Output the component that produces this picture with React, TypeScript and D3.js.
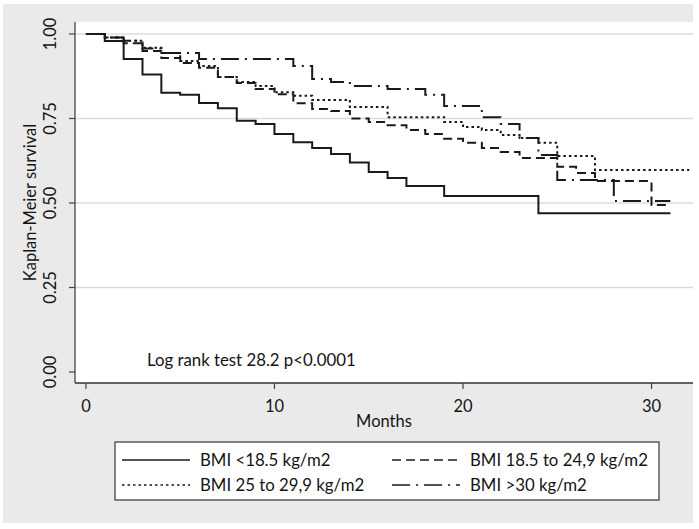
import * as d3 from "d3";

// Kaplan-Meier step data (months / survival)
const under185Time = [0, 1, 2, 3, 4, 5, 6, 7, 8, 9, 10, 11, 12, 13, 14, 15, 16, 17, 19, 24, 31];
const under185Surv = [1, 0.979, 0.926, 0.88, 0.826, 0.82, 0.796, 0.78, 0.743, 0.734, 0.704, 0.68, 0.663, 0.645, 0.62, 0.592, 0.574, 0.55, 0.521, 0.47, 0.47];

const normalTime = [0, 1, 2, 3, 4, 5, 6, 7, 8, 9, 10, 11, 12, 13, 14, 15, 16, 17, 18, 19, 20, 21, 22, 23, 25, 26, 27, 30, 31];
const normalSurv = [1, 0.99, 0.973, 0.95, 0.929, 0.914, 0.9, 0.873, 0.855, 0.837, 0.822, 0.795, 0.778, 0.772, 0.75, 0.74, 0.73, 0.716, 0.704, 0.69, 0.678, 0.663, 0.651, 0.633, 0.607, 0.589, 0.565, 0.494, 0.494];

const overTime = [0, 1, 2, 3, 4, 5, 6, 7, 8, 9, 10, 11, 12, 14, 16, 19, 20, 21, 22, 23, 24, 25, 27, 32];
const overSurv = [1, 0.99, 0.98, 0.959, 0.944, 0.92, 0.905, 0.873, 0.858, 0.846, 0.828, 0.817, 0.805, 0.784, 0.754, 0.74, 0.725, 0.716, 0.701, 0.692, 0.678, 0.639, 0.598, 0.598];

const obeseTime = [0, 1, 2, 3, 4, 6, 11, 12, 13, 14, 16, 18, 19, 21, 22, 23, 24, 25, 28, 31];
const obeseSurv = [1, 0.99, 0.98, 0.957, 0.944, 0.926, 0.905, 0.867, 0.858, 0.846, 0.837, 0.82, 0.787, 0.754, 0.734, 0.692, 0.642, 0.568, 0.506, 0.506];

const groupLabels = ["BMI <18.5 kg/m2", "BMI 18.5 to 24,9 kg/m2", "BMI 25 to 29,9 kg/m2", "BMI >30 kg/m2"];
const xTicks = [0, 10, 20, 30];
const yTicks = [0, 0.25, 0.5, 0.75, 1];
const yGrid = [0.25, 0.5, 0.75, 1];

const W = 699;
const H = 529;
const font = "Lato, 'Open Sans', sans-serif";
const ink = "#1a1a1a";
const txt = "#141414";

const series = [
  { label: groupLabels[0], t: under185Time, s: under185Surv, dash: "" },
  { label: groupLabels[1], t: normalTime, s: normalSurv, dash: "9,5" },
  { label: groupLabels[2], t: overTime, s: overSurv, dash: "2.5,3" },
  { label: groupLabels[3], t: obeseTime, s: obeseSurv, dash: "18,6,2,6" },
];

export default function App() {
  const left = 75;
  const right = 693;
  const top = 22;
  const bottom = 383;

  const x = d3.scaleLinear().domain([-0.58, 32.2]).range([left, right]);
  const y = d3.scaleLinear().domain([0, 1]).range([372, 34]);

  const line = d3
    .line<[number, number]>()
    .x((d) => x(d[0]))
    .y((d) => y(d[1]))
    .curve(d3.curveStepAfter);

  // legend placement
  const legCols = [122, 392];
  const legRows = [460, 485];

  return (
    <div style={{ position: "absolute", left: 0, top: 0 }}>
      <svg width={W} height={H} style={{ display: "block" }} fontFamily={font}>
        <rect x={0} y={0} width={W} height={H} fill="#ffffff" />
        <rect x={3} y={4} width={690} height={519} fill="#eaeaea" />
        <rect x={left} y={top} width={right - left} height={bottom - top} fill="#ffffff" />

        {/* grid */}
        {yGrid.map((v) => (
          <line key={"g" + v} x1={left} x2={right} y1={y(v)} y2={y(v)} stroke="#dcdcdc" strokeWidth={1.3} />
        ))}

        {/* axes */}
        <line x1={left} x2={left} y1={top} y2={bottom} stroke="#444" strokeWidth={1.3} />
        <line x1={left} x2={right} y1={bottom} y2={bottom} stroke="#333" strokeWidth={1.5} />
        {yTicks.map((v) => (
          <g key={"y" + v}>
            <line x1={left - 6} x2={left} y1={y(v)} y2={y(v)} stroke="#444" strokeWidth={1.2} />
            <text
              transform={`translate(56,${y(v)}) rotate(-90)`}
              textAnchor="middle"
              fontSize={16.5}
              fill={txt}
            >
              {d3.format(".2f")(v)}
            </text>
          </g>
        ))}
        {xTicks.map((v) => (
          <g key={"x" + v}>
            <line x1={x(v)} x2={x(v)} y1={bottom} y2={bottom + 6} stroke="#444" strokeWidth={1.2} />
            <text x={x(v)} y={412} textAnchor="middle" fontSize={16.5} fill={txt}>
              {v}
            </text>
          </g>
        ))}
        <text transform={`translate(36,${(top + bottom) / 2}) rotate(-90)`} textAnchor="middle" fontSize={16.5} fill={txt}>
          Kaplan-Meier survival
        </text>
        <text x={(left + right) / 2} y={427} textAnchor="middle" fontSize={16.5} fill={txt}>
          Months
        </text>

        {/* curves */}
        {series.map((d) => (
          <path
            key={d.label}
            d={line(d.t.map((t, i) => [t, d.s[i]] as [number, number])) || ""}
            fill="none"
            stroke={ink}
            strokeWidth={2}
            strokeDasharray={d.dash || undefined}
          />
        ))}

        <text x={147} y={366} fontSize={16.8} fill={txt}>
          Log rank test 28.2 p&lt;0.0001
        </text>

        {/* legend */}
        <rect x={115} y={442} width={544} height={58} fill="#ffffff" stroke="#444" strokeWidth={1.3} />
        {series.map((d, i) => {
          const cx = legCols[i % 2];
          const cy = legRows[Math.floor(i / 2)];
          return (
            <g key={"l" + d.label}>
              <line
                x1={cx}
                x2={cx + 68}
                y1={cy}
                y2={cy}
                stroke={ink}
                strokeWidth={1.6}
                strokeDasharray={d.dash || undefined}
              />
              <text x={cx + 78} y={cy + 6} fontSize={16.8} fill={txt}>
                {d.label}
              </text>
            </g>
          );
        })}
      </svg>
    </div>
  );
}
